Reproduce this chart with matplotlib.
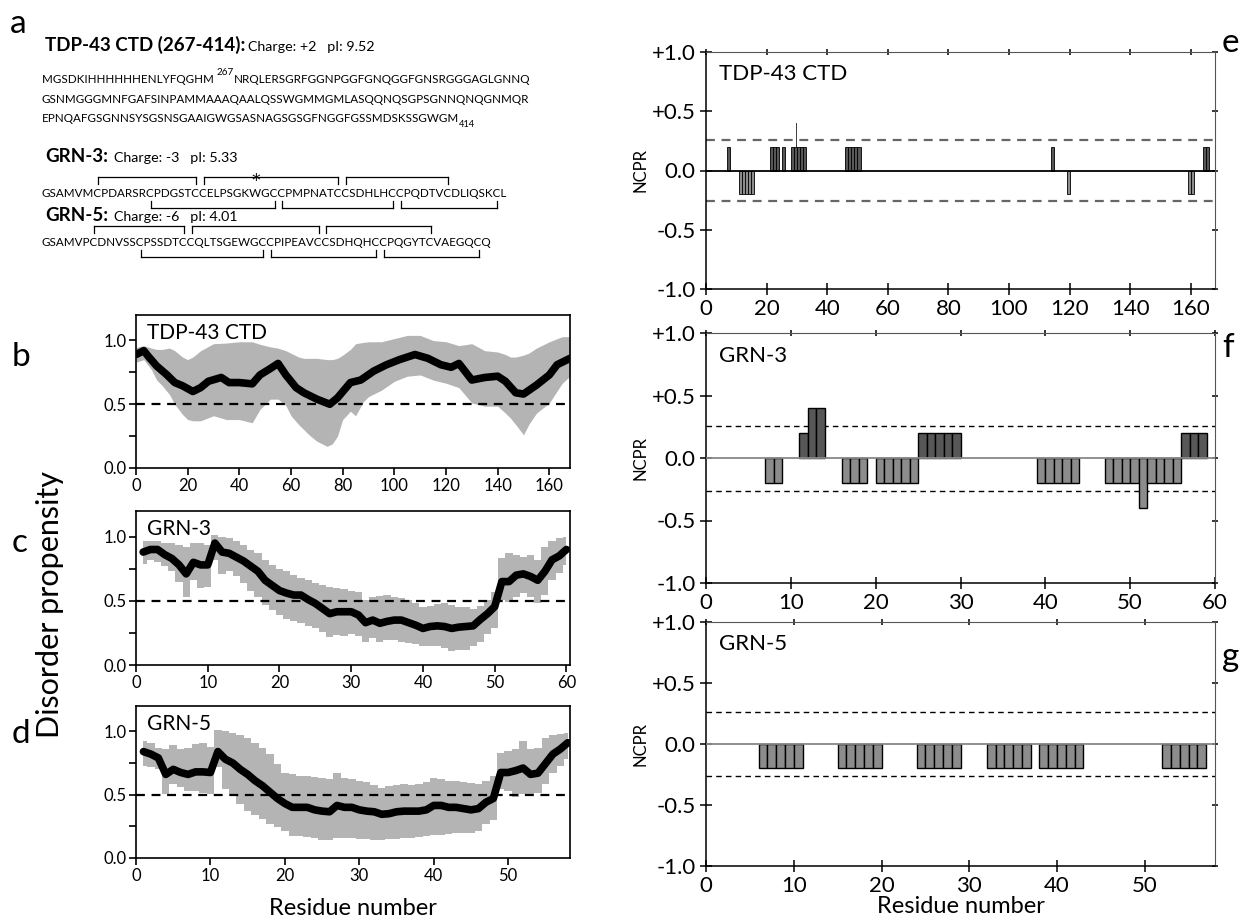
import numpy as np
import matplotlib
matplotlib.use('Agg')
import matplotlib.pyplot as plt
from matplotlib.lines import Line2D

# ---------------- data ----------------
TDP_L1A = "MGSDKIHHHHHHENLYFQGHM "
TDP_L1SUP = "267"
TDP_L1B = "NRQLERSGRFGGNPGGFGNQGGFGNSRGGGAGLGNNQ"
TDP_L2 = "GSNMGGGMNFGAFSINPAMMAAAQAALQSSWGMMGMLASQQNQSGPSGNNQNQGNMQR"
TDP_L3 = "EPNQAFGSGNNSYSGSNSGAAIGWGSASNAGSGSGFNGGFGSSMDSKSSGWGM"
TDP_L3SUB = "414"
GRN3_SEQ = "GSAMVMCPDARSRCPDGSTCCELPSGKWGCCPMPNATCCSDHLHCCPQDTVCDLIQSKCL"
GRN5_SEQ = "GSAMVPCDNVSSCPSSDTCCQLTSGEWGCCPIPEAVCCSDHQHCCPQGYTCVAEGQCQ"
GRN3_UPPER = [(7, 20), (21, 38), (39, 52)]
GRN3_LOWER = [(14, 30), (31, 45), (46, 59)]
GRN5_UPPER = [(7, 19), (20, 37), (38, 51)]
GRN5_LOWER = [(13, 29), (30, 44), (45, 57)]
GRN3_STAR = 28

# disorder propensity, TDP-43 CTD
TDP_X = [0, 3, 5, 8, 12, 15, 18, 22, 25, 28, 33, 36, 40, 45, 48, 52, 55, 58, 62, 65,
         70, 75, 78, 83, 87, 92, 97, 102, 108, 113, 118, 122, 125, 130, 135, 140, 143,
         147, 150, 155, 160, 163, 168]
TDP_MEAN = [0.89, 0.92, 0.87, 0.80, 0.73, 0.67, 0.645, 0.60, 0.63, 0.68, 0.71, 0.67, 0.67,
            0.66, 0.73, 0.78, 0.82, 0.73, 0.63, 0.59, 0.54, 0.50, 0.55, 0.67, 0.69, 0.76,
            0.81, 0.85, 0.89, 0.86, 0.81, 0.79, 0.82, 0.69, 0.71, 0.72, 0.68, 0.59, 0.58,
            0.65, 0.73, 0.81, 0.86]
TDP_BX = [0, 3, 6, 8, 10, 13, 15, 18, 20, 22, 25, 30, 35, 40, 45, 48, 50, 52, 55, 58, 60,
          63, 65, 67, 70, 74, 76, 78, 80, 83, 85, 88, 90, 95, 100, 105, 110, 115, 120,
          125, 130, 135, 140, 143, 145, 147, 150, 152, 155, 160, 165, 168]
TDP_HI = [0.945, 0.96, 0.94, 0.93, 0.93, 0.94, 0.92, 0.87, 0.85, 0.87, 0.92, 0.975, 0.98,
          0.99, 0.99, 0.97, 0.96, 0.95, 0.94, 0.92, 0.90, 0.87, 0.86, 0.86, 0.86, 0.85,
          0.85, 0.86, 0.885, 0.93, 0.975, 0.985, 0.99, 0.99, 1.015, 1.04, 1.04, 1.0, 0.99,
          0.96, 0.975, 0.92, 0.91, 0.89, 0.87, 0.87, 0.885, 0.90, 0.94, 0.99, 1.03, 1.03]
TDP_LO = [0.83, 0.85, 0.77, 0.69, 0.65, 0.575, 0.50, 0.42, 0.38, 0.37, 0.37, 0.41, 0.38,
          0.38, 0.355, 0.46, 0.50, 0.54, 0.54, 0.49, 0.41, 0.34, 0.30, 0.26, 0.21, 0.17,
          0.19, 0.25, 0.38, 0.445, 0.41, 0.52, 0.56, 0.61, 0.68, 0.72, 0.73, 0.69, 0.665,
          0.63, 0.51, 0.485, 0.485, 0.43, 0.39, 0.34, 0.26, 0.34, 0.43, 0.51, 0.665, 0.72]

# disorder propensity, GRN-3 (residues 1..60)
GRN3_MEAN = [0.88, 0.90, 0.90, 0.86, 0.83, 0.78, 0.71, 0.80, 0.78, 0.78,
             0.95, 0.88, 0.87, 0.84, 0.81, 0.77, 0.73, 0.66, 0.62, 0.58,
             0.56, 0.545, 0.545, 0.51, 0.48, 0.44, 0.40, 0.415, 0.415, 0.415,
             0.39, 0.33, 0.35, 0.325, 0.34, 0.35, 0.35, 0.33, 0.31, 0.285,
             0.30, 0.305, 0.30, 0.285, 0.295, 0.30, 0.305, 0.355, 0.40, 0.455,
             0.65, 0.65, 0.70, 0.71, 0.69, 0.66, 0.73, 0.82, 0.85, 0.90]
GRN3_HI = [0.97, 0.97, 0.965, 0.95, 0.95, 0.935, 0.92, 0.95, 0.95, 0.935,
           1.01, 1.0, 0.99, 0.97, 0.935, 0.90, 0.87, 0.82, 0.78, 0.75,
           0.73, 0.70, 0.675, 0.66, 0.64, 0.62, 0.605, 0.60, 0.59, 0.58,
           0.57, 0.505, 0.53, 0.54, 0.545, 0.53, 0.52, 0.505, 0.48, 0.455,
           0.46, 0.475, 0.48, 0.47, 0.455, 0.45, 0.44, 0.46, 0.505, 0.57,
           0.83, 0.87, 0.86, 0.84, 0.86, 0.82, 0.92, 0.97, 0.99, 1.0]
GRN3_LO = [0.79, 0.82, 0.80, 0.77, 0.73, 0.65, 0.53, 0.66, 0.60, 0.61,
           0.82, 0.71, 0.73, 0.69, 0.64, 0.58, 0.53, 0.47, 0.43, 0.39,
           0.36, 0.34, 0.325, 0.305, 0.285, 0.26, 0.22, 0.235, 0.225, 0.245,
           0.225, 0.18, 0.21, 0.18, 0.195, 0.195, 0.18, 0.17, 0.165, 0.145,
           0.145, 0.145, 0.13, 0.11, 0.115, 0.115, 0.145, 0.18, 0.245, 0.285,
           0.505, 0.49, 0.53, 0.56, 0.53, 0.48, 0.545, 0.66, 0.72, 0.78]

# disorder propensity, GRN-5 (residues 1..58)
GRN5_MEAN = [0.84, 0.82, 0.79, 0.66, 0.70, 0.675, 0.66, 0.68, 0.68, 0.675,
             0.84, 0.78, 0.75, 0.70, 0.66, 0.61, 0.57, 0.52, 0.47, 0.43,
             0.40, 0.40, 0.40, 0.38, 0.37, 0.365, 0.415, 0.40, 0.40, 0.38,
             0.37, 0.365, 0.345, 0.35, 0.365, 0.37, 0.37, 0.37, 0.38, 0.415,
             0.415, 0.40, 0.40, 0.39, 0.38, 0.39, 0.44, 0.47, 0.675, 0.675,
             0.69, 0.71, 0.66, 0.67, 0.745, 0.82, 0.86, 0.91]
GRN5_HI = [0.92, 0.91, 0.87, 0.86, 0.89, 0.86, 0.87, 0.90, 0.91, 0.88,
           1.01, 1.0, 0.99, 0.97, 0.95, 0.91, 0.87, 0.82, 0.74, 0.675,
           0.66, 0.65, 0.65, 0.64, 0.635, 0.62, 0.67, 0.635, 0.62, 0.61,
           0.60, 0.58, 0.555, 0.565, 0.58, 0.585, 0.58, 0.585, 0.60, 0.63,
           0.625, 0.61, 0.605, 0.60, 0.59, 0.585, 0.61, 0.65, 0.83, 0.845,
           0.86, 0.92, 0.86, 0.87, 0.95, 0.97, 0.98, 0.99]
GRN5_LO = [0.73, 0.715, 0.70, 0.505, 0.585, 0.56, 0.53, 0.53, 0.51, 0.505,
           0.715, 0.545, 0.505, 0.43, 0.375, 0.34, 0.31, 0.27, 0.245, 0.21,
           0.175, 0.17, 0.165, 0.155, 0.145, 0.14, 0.155, 0.155, 0.155, 0.15,
           0.15, 0.145, 0.145, 0.15, 0.15, 0.155, 0.155, 0.165, 0.17, 0.18,
           0.18, 0.19, 0.195, 0.195, 0.20, 0.215, 0.27, 0.30, 0.545, 0.53,
           0.48, 0.505, 0.50, 0.51, 0.585, 0.675, 0.73, 0.78]

# NCPR (bar left edge = residue position)
E_POS = [7, 11, 12, 13, 14, 15, 21, 22, 23, 25, 28, 29, 30, 31, 32,
         46, 47, 48, 49, 50, 114, 119, 159, 160, 164, 165]
E_VAL = [0.2, -0.2, -0.2, -0.2, -0.2, -0.2, 0.2, 0.2, 0.2, 0.2, 0.2, 0.2, 0.2, 0.2, 0.2,
         0.2, 0.2, 0.2, 0.2, 0.2, 0.2, -0.2, -0.2, -0.2, 0.2, 0.2]
E_SPIKE_POS = [29.8]
E_SPIKE_VAL = [0.4]
F_POS = [7, 8, 11, 12, 13, 16, 17, 18, 20, 21, 22, 23, 24, 25, 26, 27, 28, 29,
         39, 40, 41, 42, 43, 47, 48, 49, 50, 51, 52, 53, 54, 55, 56, 57, 58]
F_VAL = [-0.2, -0.2, 0.2, 0.4, 0.4, -0.2, -0.2, -0.2, -0.2, -0.2, -0.2, -0.2, -0.2,
         0.2, 0.2, 0.2, 0.2, 0.2,
         -0.2, -0.2, -0.2, -0.2, -0.2, -0.2, -0.2, -0.2, -0.2, -0.4, -0.2, -0.2, -0.2,
         -0.2, 0.2, 0.2, 0.2]
G_POS = [6, 7, 8, 9, 10, 15, 16, 17, 18, 19, 24, 25, 26, 27, 28, 32, 33, 34, 35, 36,
         38, 39, 40, 41, 42, 52, 53, 54, 55, 56]
G_VAL = [-0.2] * 30
NCPR_THRESH = 0.26

# ---------------- figure ----------------
plt.rcParams['font.family'] = ['Lato', 'DejaVu Sans']
W, H = 1245, 924
fig = plt.figure(figsize=(W / 100, H / 100), dpi=100)
renderer = fig.canvas.get_renderer()


def fx(x):
    return x / W


def fy(y):
    return 1 - y / H


def twidth(s, size, weight='normal'):
    if not s:
        return 0.0
    t = fig.text(0, 0, s.replace(' ', '\u00a0'), fontsize=size, fontweight=weight)
    w = t.get_window_extent(renderer=renderer).width
    t.remove()
    return w


def put(x, y, s, size, weight='normal', **kw):
    return fig.text(fx(x), fy(y), s, fontsize=size, fontweight=weight,
                    va='baseline', ha='left', **kw)


def hline(x0, x1, y0, y1, lw=0.9, color='k'):
    fig.add_artist(Line2D([fx(x0), fx(x1)], [fy(y0), fy(y1)], lw=lw, color=color,
                          transform=fig.transFigure))


# font sizes fitted to the reference widths
SEQ_FS = 10 * 2 * 470 / (twidth(GRN3_SEQ, 10) + twidth(TDP_L2, 10))
HDR_FS = 10 * 200 / twidth("TDP-43 CTD (267-414):", 10, 'bold')
SUB_FS = 10 * 127 / twidth("Charge: +2   pI: 9.52", 10)

# panel labels
for lab, x, y in [('a', 10, 33), ('b', 12, 366), ('c', 12, 552), ('d', 12, 743),
                  ('e', 1222, 52), ('f', 1222, 357), ('g', 1222, 666)]:
    put(x, y, lab, 24)

# TDP header
put(45, 51, "TDP-43 CTD (267-414):", HDR_FS, 'bold')
put(45 + twidth("TDP-43 CTD (267-414):", HDR_FS, 'bold') + 3, 51,
    "Charge: +2   pI: 9.52", SUB_FS)

# TDP sequence lines
x0 = 42
put(x0, 83, TDP_L1A, SEQ_FS)
xs = x0 + twidth(TDP_L1A, SEQ_FS)
put(xs, 75, TDP_L1SUP, SEQ_FS * 0.85)
put(xs + twidth(TDP_L1SUP, SEQ_FS * 0.85), 83, TDP_L1B, SEQ_FS)
put(x0, 103, TDP_L2, SEQ_FS)
put(x0, 122, TDP_L3, SEQ_FS)
put(x0 + twidth(TDP_L3, SEQ_FS), 127, TDP_L3SUB, SEQ_FS * 0.8)


def draw_seq(yb, seq, upper, lower, star=None):
    put(x0, yb, seq, SEQ_FS)

    def cx(i):
        return x0 + (twidth(seq[:i - 1], SEQ_FS) + twidth(seq[:i], SEQ_FS)) / 2

    yu, yl = yb - 20, yb + 11
    for a, b in upper:
        xa, xb = cx(a), cx(b)
        hline(xa, xb, yu, yu)
        hline(xa, xa, yu, yu + 7)
        hline(xb, xb, yu, yu + 7)
    for a, b in lower:
        xa, xb = cx(a), cx(b)
        hline(xa, xb, yl, yl)
        hline(xa, xa, yl, yl - 7)
        hline(xb, xb, yl, yl - 7)
    if star is not None:
        fig.text(fx(cx(star)), fy(yb - 11), '*', fontsize=SEQ_FS * 1.5,
                 ha='center', va='baseline', family=['DejaVu Sans'])


put(45, 162, "GRN-3:", HDR_FS, 'bold')
put(45 + twidth("GRN-3:", HDR_FS, 'bold') + 6, 162, "Charge: -3   pI: 5.33", SUB_FS)
draw_seq(197, GRN3_SEQ, GRN3_UPPER, GRN3_LOWER, GRN3_STAR)
put(45, 221, "GRN-5:", HDR_FS, 'bold')
put(45 + twidth("GRN-5:", HDR_FS, 'bold') + 6, 221, "Charge: -6   pI: 4.01", SUB_FS)
draw_seq(246, GRN5_SEQ, GRN5_UPPER, GRN5_LOWER)


def ax_px(l, t, r, b):
    return fig.add_axes([l / W, 1 - b / H, (r - l) / W, (b - t) / H])


BAND = '#b4b4b4'


def disorder(box, x, mean, bx, lo, hi, xlim, xticks, title, step):
    ax = ax_px(*box)
    if step:
        ax.fill_between(bx, lo, hi, step='mid', color=BAND, lw=0)
    else:
        ax.fill_between(bx, lo, hi, color=BAND, lw=0)
    ax.plot(x, mean, color='k', lw=5.5, solid_capstyle='round', solid_joinstyle='round')
    ax.axhline(0.5, color='k', ls=(0, (4, 3)), lw=1.6)
    ax.set_xlim(*xlim)
    ax.set_ylim(0, 1.2)
    ax.set_yticks([0, 0.5, 1.0])
    ax.set_yticklabels(['0.0', '0.5', '1.0'])
    ax.set_yticks([0.25, 0.75], minor=True)
    ax.set_xticks(xticks)
    ax.set_xticklabels([str(v) for v in xticks])
    ax.tick_params(which='both', direction='out', length=5, width=1.2, labelsize=12,
                   pad=2)
    for s in ax.spines.values():
        s.set_linewidth(1.2)
    ax.text(0.025, 0.95, title, transform=ax.transAxes, va='top', ha='left', fontsize=15)
    return ax


disorder((136, 315, 570, 468), TDP_X, TDP_MEAN, TDP_BX, TDP_LO, TDP_HI, (0, 168),
         list(range(0, 161, 20)), 'TDP-43 CTD', False)
r3 = list(range(1, len(GRN3_MEAN) + 1))
disorder((136, 511, 570, 665), r3, GRN3_MEAN, r3, GRN3_LO, GRN3_HI, (0, 60.5),
         list(range(0, 61, 10)), 'GRN-3', True)
r5 = list(range(1, len(GRN5_MEAN) + 1))
axd = disorder((136, 706, 570, 858), r5, GRN5_MEAN, r5, GRN5_LO, GRN5_HI, (0, 58.3),
               list(range(0, 51, 10)), 'GRN-5', True)
axd.set_xlabel('Residue number', fontsize=17, labelpad=10)
fig.text(fx(50), fy(605), 'Disorder propensity', rotation=90, fontsize=22,
         ha='center', va='center')

POS_C = '#575757'
NEG_C = '#8c8c8c'


def ncpr(box, pos, val, xlim, xticks, title, zero_col, dash_col, dash_lw, edge_lw,
         spike=None):
    ax = ax_px(*box)
    cols = [POS_C if v > 0 else NEG_C for v in val]
    ax.bar(pos, val, width=1, align='edge', color=cols, edgecolor='k', lw=edge_lw,
           zorder=3)
    if spike is not None:
        ax.bar(spike[0], spike[1], width=0.35, align='edge', color='#444444',
               edgecolor='none', zorder=2)
    ax.axhline(0, color=zero_col, lw=1.3, zorder=4)
    for yv in (NCPR_THRESH, -NCPR_THRESH):
        ax.axhline(yv, color=dash_col, ls=(0, (4, 3)), lw=dash_lw, zorder=1)
    ax.set_xlim(*xlim)
    ax.set_ylim(-1, 1)
    ax.set_yticks([-1, -0.5, 0, 0.5, 1])
    ax.set_yticklabels(['-1.0', '-0.5', '0.0', '+0.5', '+1.0'])
    ax.set_xticks(xticks)
    ax.set_xticklabels([str(v) for v in xticks])
    ax.tick_params(axis='both', direction='inout', length=9, width=1.1, labelsize=16,
                   pad=3, top=True, right=True, labeltop=False, labelright=False)
    for t in ax.xaxis.get_major_ticks() + ax.yaxis.get_major_ticks():
        t.tick2line.set_markersize(4)
        t.tick2line.set_color('#888888')
    for s in ('top', 'right'):
        ax.spines[s].set_color('#555555')
    ax.spines['left'].set_linewidth(1.1)
    ax.spines['bottom'].set_linewidth(1.1)
    ax.set_ylabel('NCPR', fontsize=12, labelpad=2)
    ax.text(0.025, 0.95, title, transform=ax.transAxes, va='top', ha='left', fontsize=16)
    return ax


ncpr((706, 52, 1215, 289), E_POS, E_VAL, (0, 168), list(range(0, 161, 20)),
     'TDP-43 CTD', 'k', '#666666', 1.6, 0.6, spike=(E_SPIKE_POS, E_SPIKE_VAL))
ncpr((706, 333, 1215, 583), F_POS, F_VAL, (0, 60), list(range(0, 61, 10)),
     'GRN-3', '#888888', 'k', 1.0, 1.0)
axg = ncpr((706, 622, 1215, 866), G_POS, G_VAL, (0, 58), list(range(0, 51, 10)),
           'GRN-5', '#888888', 'k', 1.0, 1.0)
axg.set_xlabel('Residue number', fontsize=17, labelpad=0)

fig.savefig('out.png', dpi=100)
